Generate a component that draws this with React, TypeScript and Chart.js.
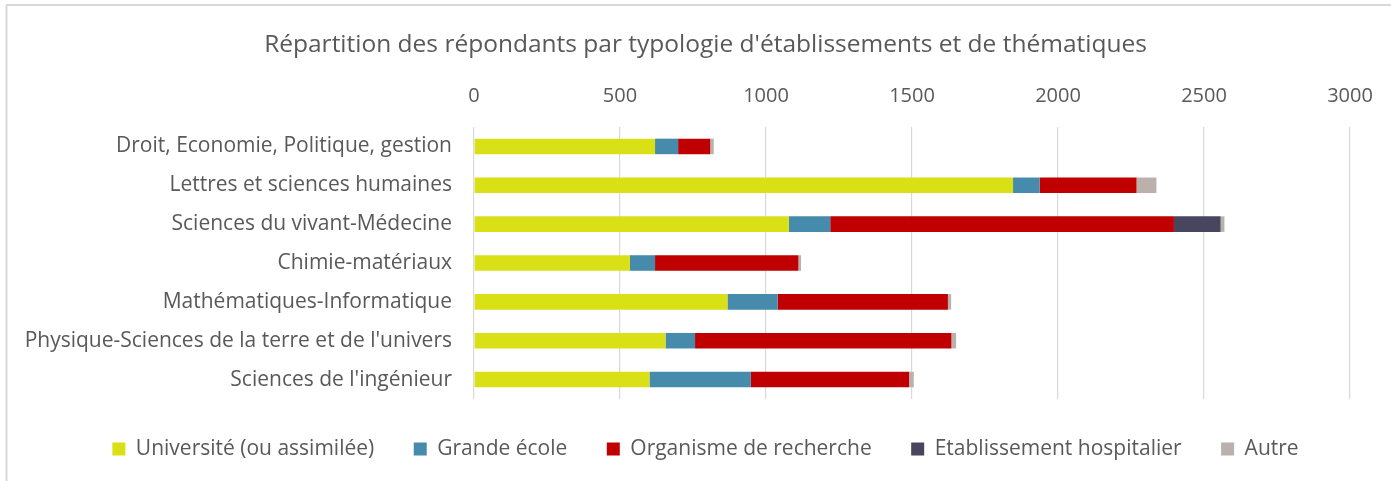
import React, { useEffect, useRef } from "react";
import { Chart, registerables } from "chart.js";

Chart.register(...registerables);

const titleText = "Répartition des répondants par typologie d'établissements et de thématiques";

const categories = [
  "Droit, Economie, Politique, gestion",
  "Lettres et sciences humaines",
  "Sciences du vivant-Médecine",
  "Chimie-matériaux",
  "Mathématiques-Informatique",
  "Physique-Sciences de la terre et de l'univers",
  "Sciences de l'ingénieur",
];

const seriesNames = [
  "Université (ou assimilée)",
  "Grande école",
  "Organisme de recherche",
  "Etablissement hospitalier",
  "Autre",
];

const universite = [620, 1846, 1078, 534, 868, 656, 601];
const grandeEcole = [79, 91, 142, 86, 172, 101, 347];
const organisme = [110, 332, 1177, 491, 583, 878, 542];
const hospitalier = [0, 0, 160, 0, 0, 0, 0];
const autre = [12, 68, 13, 9, 11, 16, 16];

const seriesColors = ["#D9E016", "#468BAB", "#C00000", "#48455F", "#BAB0AC"];

const xMin = 0;
const xMax = 3000;
const xStep = 500;

const FONT = "'Open Sans', 'DejaVu Sans', sans-serif";
const TEXT = "#595959";

const framePlugin = {
  id: "frame",
  beforeDraw(chart: any) {
    const ctx = chart.ctx;
    ctx.save();
    ctx.fillStyle = "#ffffff";
    ctx.fillRect(0, 0, chart.width, chart.height);
    ctx.strokeStyle = "#d9d9d9";
    ctx.lineWidth = 2;
    ctx.beginPath();
    ctx.moveTo(6, 5);
    ctx.lineTo(chart.width, 5);
    ctx.moveTo(6.5, 5);
    ctx.lineTo(6.5, chart.height);
    ctx.stroke();
    ctx.restore();
  },
};

export default function App() {
  const ref = useRef<HTMLCanvasElement | null>(null);

  useEffect(() => {
    if (!ref.current) return;
    const data = [universite, grandeEcole, organisme, hospitalier, autre];
    const chart = new Chart(ref.current, {
      type: "bar",
      data: {
        labels: categories,
        datasets: seriesNames.map((name, i) => ({
          label: name,
          data: data[i],
          backgroundColor: seriesColors[i],
          borderWidth: 0,
          barPercentage: 0.5,
          categoryPercentage: 0.8,
        })),
      },
      plugins: [framePlugin],
      options: {
        indexAxis: "y",
        animation: false,
        responsive: true,
        maintainAspectRatio: false,
        layout: { padding: { left: 20, right: 0, top: 0, bottom: 11.5 } },
        plugins: {
          title: {
            display: true,
            text: titleText,
            color: TEXT,
            font: { family: FONT, size: 24.5, weight: "normal" },
            padding: { top: 30.3, bottom: 8 },
          },
          legend: {
            position: "bottom",
            labels: {
              color: TEXT,
              font: { family: FONT, size: 21 },
              boxWidth: 13,
              boxHeight: 13,
              padding: 39.5,
            },
          },
          tooltip: { enabled: false },
        },
        scales: {
          x: {
            position: "top",
            stacked: true,
            min: xMin,
            max: xMax,
            ticks: {
              stepSize: xStep,
              color: TEXT,
              font: { family: FONT, size: 20 },
              padding: 19,
              callback: (v: any) => String(v),
            },
            grid: { color: "#d9d9d9", lineWidth: 1.2, drawTicks: false },
            border: { display: false },
            afterFit: (s: any) => {
              s.height = 59.3;
              s.paddingRight = 41;
              s.paddingLeft = 0;
            },
          },
          y: {
            stacked: true,
            ticks: {
              color: TEXT,
              font: { family: FONT, size: 21 },
              padding: 22,
              autoSkip: false,
            },
            grid: { display: false, drawTicks: false },
            border: { display: false },
            afterFit: (s: any) => {
              s.width = 454;
            },
          },
        },
      },
    });
    return () => chart.destroy();
  }, []);

  return (
    <div style={{ position: "fixed", left: 0, top: 0, width: 1391, height: 481, background: "#fff" }}>
      <canvas ref={ref} />
    </div>
  );
}
